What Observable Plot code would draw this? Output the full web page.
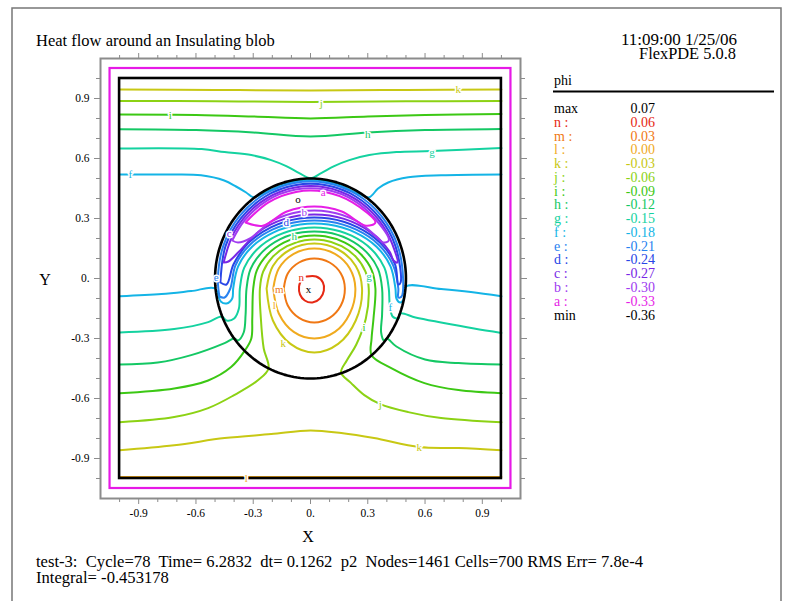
<!DOCTYPE html>
<html><head><meta charset="utf-8">
<script src="https://cdn.jsdelivr.net/npm/d3@7"></script>
<script src="https://cdn.jsdelivr.net/npm/@observablehq/plot@0.6"></script>
<style>
body{margin:0;background:#fff;}
#wrap{position:relative;width:794px;height:601px;overflow:hidden;font-family:"Liberation Serif","Times New Roman",serif;}
#wrap svg{position:absolute;left:0;top:0;}
</style></head><body><div id="wrap"></div>
<script>
// ---- contour levels ----
const levelLetters = ["a","b","c","d","e","f","g","h","i","j","k","l","m","n"];
const levelValues = [-0.33,-0.30,-0.27,-0.24,-0.21,-0.18,-0.15,-0.12,-0.09,-0.06,-0.03,0.00,0.03,0.06];
const levelColors = ["#e61ee6","#a03cf0","#7828e6","#2846e6","#2882f0","#14b4e6","#14d2a0","#14c864","#3cc814","#8cd214","#c8c814","#f0aa1e","#f07814","#e62814"];
const phiMax = 0.07, phiMin = -0.36;

// ---- contour polylines (x, y) ----
const kTop = [[-1,0.945],[-0.5,0.943],[0,0.94],[0.5,0.943],[1,0.945]];
const jTop = [[-1,0.888],[-0.5,0.886],[0,0.883],[0.5,0.886],[1,0.887]];
const iTop = [[-1,0.82],[-0.6,0.818],[-0.3,0.81],[0,0.80],[0.3,0.81],[0.6,0.818],[1,0.822]];
const hTop = [[-1,0.746],[-0.6,0.742],[-0.3,0.73],[0,0.71],[0.3,0.73],[0.6,0.742],[1,0.748]];
const gTop = [[-1,0.65],[-0.57,0.647],[-0.45,0.632],[-0.31,0.617],[-0.206,0.592],[-0.127,0.562],[-0.059,0.527],[0,0.502],[0.056,0.527],[0.124,0.562],[0.203,0.592],[0.308,0.617],[0.45,0.632],[0.634,0.637],[1,0.652]];
const fTop = [[-1,0.52],[-0.73,0.52],[-0.573,0.516],[-0.452,0.49],[-0.39,0.46],[-0.337,0.43],[-0.30,0.406],[-0.246,0.426],[-0.127,0.475],[0,0.492],[0.127,0.475],[0.246,0.426],[0.307,0.406],[0.354,0.45],[0.407,0.48],[0.512,0.506],[0.684,0.516],[1,0.52]];
const fLow = [[-1,-0.089],[-0.78,-0.078],[-0.625,-0.063],[-0.50,-0.05],[-0.47,-0.115],[-0.44,-0.125],[-0.41,-0.1],[-0.405,-0.05],[-0.379,0.061],[-0.306,0.159],[-0.193,0.231],[-0.054,0.27],[0.094,0.27],[0.233,0.231],[0.346,0.159],[0.419,0.061],[0.445,-0.05],[0.45,-0.1],[0.47,-0.12],[0.49,-0.1],[0.50,-0.04],[0.684,-0.053],[0.84,-0.068],[1,-0.089]];
const gLow = [[-1,-0.27],[-0.714,-0.253],[-0.536,-0.218],[-0.465,-0.19],[-0.44,-0.21],[-0.40,-0.2],[-0.375,-0.15],[-0.37,-0.05],[-0.347,0.054],[-0.279,0.146],[-0.175,0.214],[-0.048,0.25],[0.088,0.25],[0.215,0.214],[0.319,0.146],[0.387,0.054],[0.41,-0.05],[0.415,-0.13],[0.43,-0.19],[0.46,-0.2],[0.47,-0.175],[0.55,-0.195],[0.684,-0.22],[0.857,-0.25],[1,-0.272]];
const hLow = [[-1,-0.43],[-0.8,-0.42],[-0.625,-0.383],[-0.45,-0.323],[-0.40,-0.30],[-0.38,-0.31],[-0.35,-0.27],[-0.34,-0.18],[-0.335,-0.05],[-0.314,0.047],[-0.252,0.133],[-0.158,0.197],[-0.042,0.231],[0.082,0.231],[0.198,0.197],[0.292,0.133],[0.354,0.047],[0.375,-0.05],[0.375,-0.18],[0.37,-0.27],[0.385,-0.31],[0.40,-0.30],[0.45,-0.34],[0.6,-0.405],[0.775,-0.423],[1,-0.43]];
const iLow = [[-1,-0.574],[-0.714,-0.55],[-0.536,-0.51],[-0.416,-0.443],[-0.345,-0.362],[-0.31,-0.3],[-0.305,-0.2],[-0.30,-0.05],[-0.281,0.041],[-0.225,0.12],[-0.14,0.179],[-0.036,0.211],[0.076,0.211],[0.18,0.179],[0.265,0.12],[0.321,0.041],[0.34,-0.05],[0.33,-0.2],[0.32,-0.3],[0.32,-0.384],[0.423,-0.448],[0.597,-0.523],[0.775,-0.558],[1,-0.574]];
const jLow = [[-1,-0.719],[-0.714,-0.693],[-0.536,-0.648],[-0.40,-0.583],[-0.274,-0.508],[-0.22,-0.45],[-0.245,-0.35],[-0.26,-0.2],[-0.265,-0.05],[-0.248,0.034],[-0.198,0.108],[-0.123,0.162],[-0.03,0.191],[0.07,0.191],[0.163,0.162],[0.238,0.108],[0.288,0.034],[0.305,-0.05],[0.29,-0.2],[0.24,-0.33],[0.19,-0.41],[0.16,-0.47],[0.213,-0.523],[0.282,-0.583],[0.365,-0.628],[0.512,-0.668],[0.684,-0.698],[1,-0.719]];
const kLow = [[-1,-0.859],[-0.714,-0.834],[-0.45,-0.798],[-0.206,-0.778],[0,-0.76],[0.161,-0.773],[0.333,-0.798],[0.57,-0.843],[0.775,-0.848],[1,-0.859]];
const lWall = [[-1,-0.993],[1,-0.993]];
const kLoop = [[-0.23,-0.05],[-0.197,0.063],[-0.105,0.145],[0.02,0.175],[0.145,0.145],[0.237,0.063],[0.27,-0.05],[0.237,-0.21],[0.145,-0.327],[0.02,-0.37],[-0.105,-0.327],[-0.197,-0.21],[-0.23,-0.05]];
const lLoop = [[-0.195,-0.05],[-0.166,0.05],[-0.088,0.123],[0.02,0.15],[0.128,0.123],[0.206,0.05],[0.235,-0.05],[0.206,-0.175],[0.128,-0.267],[0.02,-0.30],[-0.088,-0.267],[-0.166,-0.175],[-0.195,-0.05]];
const mLoop = [[-0.14,-0.05],[-0.119,0.025],[-0.06,0.08],[0.02,0.10],[0.10,0.08],[0.159,0.025],[0.18,-0.05],[0.159,-0.135],[0.10,-0.197],[0.02,-0.22],[-0.06,-0.197],[-0.119,-0.135],[-0.14,-0.05]];
const nLoop = [[-0.02,0.01],[0.03,0.01],[0.065,-0.02],[0.07,-0.06],[0.05,-0.10],[0.01,-0.12],[-0.03,-0.11],[-0.055,-0.08],[-0.06,-0.04],[-0.05,-0.01]];
const eLoop = [[-0.477,-0.09],[-0.485,0.0],[-0.456,0.166],[-0.372,0.312],[-0.243,0.42],[-0.084,0.478],[0.084,0.478],[0.243,0.42],[0.372,0.312],[0.456,0.166],[0.485,0.0],[0.477,-0.09],[0.46,-0.095],[0.46,-0.05],[0.433,0.066],[0.357,0.169],[0.24,0.244],[0.096,0.285],[-0.056,0.285],[-0.2,0.244],[-0.317,0.169],[-0.393,0.066],[-0.42,-0.05],[-0.45,-0.095],[-0.477,-0.09]];
const dLoop = [[-0.472,-0.02],[-0.445,0.162],[-0.362,0.304],[-0.237,0.41],[-0.082,0.466],[0.082,0.466],[0.237,0.41],[0.362,0.304],[0.445,0.162],[0.472,-0.02],[0.46,-0.03],[0.443,0.071],[0.365,0.178],[0.245,0.257],[0.098,0.30],[-0.058,0.30],[-0.205,0.257],[-0.325,0.178],[-0.403,0.071],[-0.44,-0.03],[-0.472,-0.02]];
const cLoop = [[-0.455,0.08],[-0.40,0.231],[-0.297,0.354],[-0.158,0.434],[0,0.462],[0.158,0.434],[0.297,0.354],[0.40,0.231],[0.455,0.08],[0.435,0.09],[0.414,0.135],[0.312,0.233],[0.176,0.298],[0.02,0.32],[-0.136,0.298],[-0.272,0.233],[-0.374,0.135],[-0.43,0.085],[-0.455,0.08]];
const bLoop = [[-0.41,0.19],[-0.346,0.29],[-0.226,0.391],[-0.078,0.445],[0.078,0.445],[0.226,0.391],[0.346,0.29],[0.41,0.19],[0.38,0.18],[0.357,0.2],[0.24,0.288],[0.096,0.334],[-0.056,0.334],[-0.2,0.288],[-0.317,0.2],[-0.38,0.18],[-0.41,0.19]];
const aLoop = [[-0.34,0.28],[-0.22,0.381],[-0.076,0.433],[0.076,0.433],[0.22,0.381],[0.34,0.28],[0.29,0.264],[0.164,0.335],[0.02,0.36],[-0.124,0.335],[-0.25,0.264],[-0.34,0.28]];

const contourList = [["l",lWall],["k",kTop],["j",jTop],["i",iTop],["h",hTop],["g",gTop],["f",fTop],["f",fLow],["g",gLow],["h",hLow],["i",iLow],["j",jLow],["k",kLow],
  ["k",kLoop],["l",lLoop],["m",mLoop],["n",nLoop],["e",eLoop],["d",dLoop],["c",cLoop],["b",bLoop],["a",aLoop]];

// contour labels
const labelLetters = ["k","j","i","h","g","f","j","k","l","a","b","c","d","e","f","g","h","i","k","l","m","n"];
const labelX = [0.774,0.056,-0.734,0.30,0.637,-0.944,0.365,0.57,-0.336,0.067,-0.033,-0.426,-0.127,-0.494,0.418,0.307,-0.085,0.281,-0.143,-0.19,-0.164,-0.049];
const labelY = [0.946,0.876,0.816,0.72,0.632,0.52,-0.628,-0.843,-0.998,0.43,0.33,0.226,0.28,0.006,-0.143,0.011,0.21,-0.243,-0.323,-0.134,-0.053,0.006];
const markText = ["o","x"], markX = [-0.065,-0.01], markY = [0.396,-0.054];

// geometry
const boxHalf = 1.0, outerHalf = 1.05, blobRadius = 0.5;

// axes
const majorTicks = [-0.9,-0.6,-0.3,0,0.3,0.6,0.9];
const majorLabels = ["-0.9","-0.6","-0.3","0.","0.3","0.6","0.9"];
const minorTicks = [-1.0,-0.8,-0.7,-0.5,-0.4,-0.2,-0.1,0.1,0.2,0.4,0.5,0.7,0.8,1.0];

// text
const titleText = "Heat flow around an Insulating blob";
const stampText = ["11:09:00 1/25/06","FlexPDE 5.0.8"];
const footerText = ["test-3:  Cycle=78  Time= 6.2832  dt= 0.1262  p2  Nodes=1461 Cells=700 RMS Err= 7.8e-4","Integral= -0.453178"];

// ---- build ----
const rows = contourList.flatMap(([lvl, pts], id) => pts.map(([x, y]) => ({id, lvl, x, y})));
const labels = labelLetters.map((t, i) => ({t, x: labelX[i], y: labelY[i]}));
const marks2 = markText.map((t, i) => ({t, x: markX[i], y: markY[i]}));
const circlePts = d3.range(0, 361, 2).map(a => ({x: blobRadius * Math.cos(a * Math.PI / 180), y: blobRadius * Math.sin(a * Math.PI / 180)}));
const lbl = new Map(majorTicks.map((t, i) => [t, majorLabels[i]]));
const gray = "#8c8c8c";
const serif = "'Liberation Serif', 'Times New Roman', serif";

const plot = Plot.plot({
  width: 794, height: 601,
  marginLeft: 100, marginRight: 274, marginTop: 58, marginBottom: 103,
  x: {domain: [-1.1, 1.1], axis: null},
  y: {domain: [-1.1, 1.1], axis: null},
  color: {type: "ordinal", domain: levelLetters, range: levelColors},
  style: {fontFamily: serif, fontSize: "12px", color: "black", background: "white"},
  marks: [
    Plot.line(rows, {x: "x", y: "y", z: "id", stroke: "lvl", strokeWidth: 2, curve: "catmull-rom"}),
    Plot.line(circlePts, {x: "x", y: "y", stroke: "black", strokeWidth: 2.6}),
    Plot.rect([{x1: -boxHalf, x2: boxHalf, y1: -boxHalf, y2: boxHalf}], {x1: "x1", x2: "x2", y1: "y1", y2: "y2", fill: "none", stroke: "black", strokeWidth: 2.6}),
    Plot.rect([{x1: -outerHalf, x2: outerHalf, y1: -outerHalf, y2: outerHalf}], {x1: "x1", x2: "x2", y1: "y1", y2: "y2", fill: "none", stroke: "#e619e6", strokeWidth: 2.2}),
    Plot.text(labels, {x: "x", y: "y", text: "t", fill: "t", stroke: "white", strokeWidth: 3, fontSize: 11, fontFamily: serif}),
    Plot.text(marks2, {x: "x", y: "y", text: "t", fill: "black", fontSize: 11, fontFamily: serif}),
    Plot.frame({stroke: gray, strokeWidth: 2}),
    Plot.axisX(majorTicks, {anchor: "bottom", tickSize: 6, tickPadding: 4, stroke: gray, fill: "black", tickFormat: d => lbl.get(d), label: null, fontSize: 11.5, fontFamily: serif}),
    Plot.axisX(minorTicks, {anchor: "bottom", tickSize: 4, stroke: gray, tickFormat: () => "", label: null}),
    Plot.axisX(majorTicks, {anchor: "top", tickSize: 6, stroke: gray, tickFormat: () => "", label: null}),
    Plot.axisX(minorTicks, {anchor: "top", tickSize: 4, stroke: gray, tickFormat: () => "", label: null}),
    Plot.axisY(majorTicks, {anchor: "left", tickSize: 6, tickPadding: 5, stroke: gray, fill: "black", tickFormat: d => lbl.get(d), label: null, fontSize: 11.5, fontFamily: serif}),
    Plot.axisY(minorTicks, {anchor: "left", tickSize: 4, stroke: gray, tickFormat: () => "", label: null}),
    Plot.axisY(majorTicks, {anchor: "right", tickSize: 6, stroke: gray, tickFormat: () => "", label: null}),
    Plot.axisY(minorTicks, {anchor: "right", tickSize: 4, stroke: gray, tickFormat: () => "", label: null})
  ]
});
const wrap = document.getElementById("wrap");
wrap.appendChild(plot);

// overlay texts
const svg = d3.select(wrap).append("svg").attr("width", 794).attr("height", 601)
  .style("pointer-events", "none").style("font-family", serif);
// page border
svg.append("path").attr("d", "M12,601V8H781V601").attr("fill", "none").attr("stroke", "#777").attr("stroke-width", 1.5);
svg.append("text").attr("x", 36).attr("y", 46).attr("font-size", 16.5).text(titleText);
svg.append("text").attr("x", 737).attr("y", 44.5).attr("text-anchor", "end").attr("font-size", 17).text(stampText[0]);
svg.append("text").attr("x", 736).attr("y", 58.5).attr("text-anchor", "end").attr("font-size", 16.4).text(stampText[1]);
svg.append("text").attr("x", 308).attr("y", 542).attr("text-anchor", "middle").attr("font-size", 16).text("X");
svg.append("text").attr("x", 45).attr("y", 285).attr("text-anchor", "middle").attr("font-size", 16).text("Y");
footerText.forEach((t, i) => svg.append("text").attr("x", 36).attr("y", 567 + i * 16).attr("font-size", 16.6).style("white-space", "pre").text(t));
// legend
svg.append("text").attr("x", 554).attr("y", 85).attr("font-size", 14).text("phi");
svg.append("line").attr("x1", 553).attr("x2", 774).attr("y1", 91.5).attr("y2", 91.5).attr("stroke", "black").attr("stroke-width", 2);
const legendRows = [{k: "max", v: phiMax, c: "black"}]
  .concat(levelLetters.map((l, i) => ({k: l + " :", v: levelValues[i], c: levelColors[i]})).reverse())
  .concat([{k: "min", v: phiMin, c: "black"}]);
legendRows.forEach((r, i) => {
  const y = 113 + i * 13.77;
  svg.append("text").attr("x", 554).attr("y", y).attr("font-size", 14).attr("fill", r.c).text(r.k);
  svg.append("text").attr("x", 655).attr("y", y).attr("text-anchor", "end").attr("font-size", 14).attr("fill", r.c).text(r.v.toFixed(2));
});
</script></body></html>
